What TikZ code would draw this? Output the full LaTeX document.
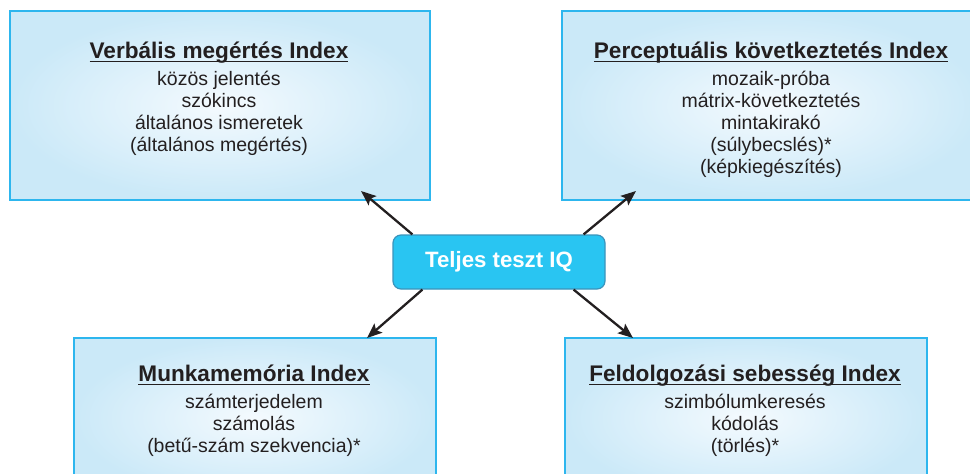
\documentclass[tikz,border=0pt]{standalone}
\usepackage{fontspec}
\setmainfont{Liberation Sans}
\usetikzlibrary{arrows.meta}

\definecolor{boxedge}{HTML}{2DB6EE}
\definecolor{boxin}{HTML}{F4FAFE}
\definecolor{boxout}{HTML}{CBE9F8}
\definecolor{iqfill}{HTML}{29C5F2}
\definecolor{iqedge}{HTML}{3A94BC}
\definecolor{ink}{HTML}{231F20}

% underlined bold heading: rule sits a fixed distance under the baseline
\newcommand{\indexhead}[1]{{\fontsize{22.6}{26}\selectfont\bfseries
  \setbox0\hbox{#1}\rlap{\rule[-3.6pt]{\wd0}{1.7pt}}\box0}}

\tikzset{
  indexbox/.style={draw=boxedge, line width=1.6pt, rectangle,
    shading=radial, inner color=boxin, outer color=boxout,
    inner sep=0pt, anchor=north west},
  boxtext/.style={align=center, inner sep=0pt, anchor=north, text=ink,
    font=\fontsize{19.5}{22}\selectfont},
  iqbox/.style={draw=iqedge, line width=1.2pt, fill=iqfill, rounded corners=8pt,
    minimum width=212pt, minimum height=54pt, inner sep=0pt,
    text=white, font=\fontsize{22.2}{26}\selectfont\bfseries},
  link/.style={draw=ink, line width=2.3pt,
    -{Stealth[length=15pt, width=12pt, inset=3pt]}}
}

\begin{document}
\begin{tikzpicture}[x=1pt, y=-1pt]
  \clip (0,0) rectangle (970,474);
  \fill[white] (0,0) rectangle (970,474);

  % the four index boxes
  \node[indexbox, minimum width=420pt, minimum height=189pt] (verb) at (9,10) {};
  \node[indexbox, minimum width=420pt, minimum height=189pt] (perc) at (561,10) {};
  \node[indexbox, minimum width=362pt, minimum height=160pt] (work) at (73,337) {};
  \node[indexbox, minimum width=362pt, minimum height=160pt] (speed) at (564,337) {};

  % box contents
  \node[boxtext] (verbtext) at (219,42) {\indexhead{Verbális megértés Index}\\[5pt]
    közös jelentés\\ szókincs\\ általános ismeretek\\ (általános megértés)};
  \node[boxtext] (perctext) at (771,42) {\indexhead{Perceptuális következtetés Index}\\[5pt]
    mozaik-próba\\ mátrix-következtetés\\ mintakirakó\\ (súlybecslés)*\\ (képkiegészítés)};
  \node[boxtext] (worktext) at (254,365) {\indexhead{Munkamemória Index}\\[5pt]
    számterjedelem\\ számolás\\ (betű-szám szekvencia)*};
  \node[boxtext] (speedtext) at (745,365) {\indexhead{Feldolgozási sebesség Index}\\[5pt]
    szimbólumkeresés\\ kódolás\\ (törlés)*};

  % central node
  \node[iqbox] (iq) at (499,262) {Teljes teszt IQ};

  % arrow start points on the central box and tips on the index boxes
  \coordinate (s1) at ([xshift=20pt]iq.north west);
  \coordinate (s2) at ([xshift=-22pt]iq.north east);
  \coordinate (s3) at ([xshift=30pt]iq.south west);
  \coordinate (s4) at ([xshift=-32pt]iq.south east);
  \coordinate (t1) at (361,191);
  \coordinate (t2) at (636,191);
  \coordinate (t3) at (367,338);
  \coordinate (t4) at (633,338);

  \draw[link] (s1) -- (t1);
  \draw[link] (s2) -- (t2);
  \draw[link] (s3) -- (t3);
  \draw[link] (s4) -- (t4);
\end{tikzpicture}
\end{document}
